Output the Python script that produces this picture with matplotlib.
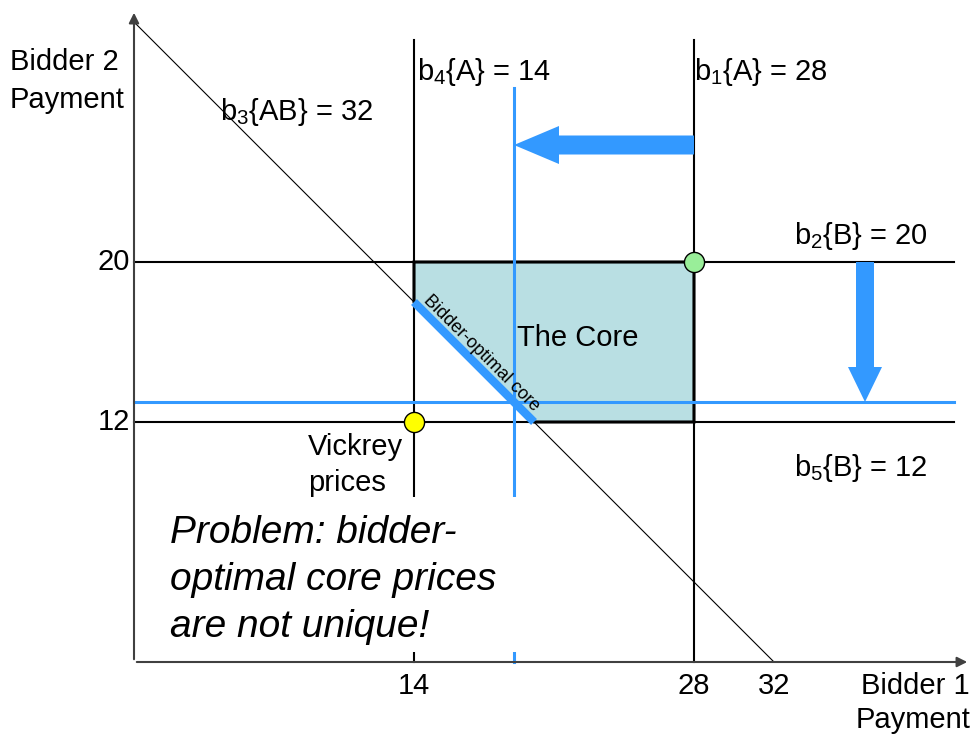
import matplotlib
matplotlib.use("Agg")
import matplotlib.pyplot as plt
from matplotlib.patches import Polygon, Rectangle, FancyArrow

plt.rcParams['font.family'] = ['Liberation Sans', 'DejaVu Sans']

# bids
b1_A = 28
b2_B = 20
b3_AB = 32
b4_A = 14
b5_B = 12
# selected bidder-optimal core point
core_pt = (19, 13)
vickrey = (b4_A, b5_B)
x_ticks = [14, 28, 32]
y_ticks = [12, 20]

BLUE = '#3399ff'
fig = plt.figure(figsize=(9.76, 7.36), dpi=100)
ax = fig.add_axes([0, 0, 1, 1])
ax.set_xlim(-6.7, 42.1)
ax.set_ylim(-3.7, 33.1)
ax.axis('off')

# core polygon
core = [(b4_A, b2_B), (b1_A, b2_B), (b1_A, b5_B), (b3_AB - b5_B, b5_B), (b4_A, b3_AB - b4_A)]
ax.add_patch(Polygon(core, closed=True, facecolor='#b9dfe3', edgecolor='black', lw=2.2, zorder=2))

# constraint lines
ax.plot([b4_A, b4_A], [0, 31.1], color='black', lw=1.5, zorder=3)
ax.plot([b1_A, b1_A], [0, 31.1], color='black', lw=1.5, zorder=3)
ax.plot([0, 41], [b2_B, b2_B], color='black', lw=1.5, zorder=3)
ax.plot([0, 41], [b5_B, b5_B], color='black', lw=1.5, zorder=3)
ax.plot([0, b3_AB], [b3_AB, 0], color='black', lw=0.8, zorder=3)

# blue lines
ax.plot([core_pt[0], core_pt[0]], [0, 28.7], color=BLUE, lw=2.2, zorder=4)
ax.plot([0, 41], [core_pt[1], core_pt[1]], color=BLUE, lw=2.2, zorder=4)

# bidder-optimal core segment
ax.plot([b4_A, b3_AB - b5_B], [b3_AB - b4_A, b5_B], color=BLUE, lw=6, solid_capstyle='butt', zorder=5)
ax.text(17.35, 15.45, 'Bidder-optimal core', rotation=-45, ha='center', va='center',
        fontsize=13, zorder=6, rotation_mode='anchor')

# arrows
ax.add_patch(FancyArrow(b1_A, 25.85, -(b1_A - core_pt[0]), 0, width=0.95, head_width=1.9,
                        head_length=2.25, length_includes_head=True, color=BLUE, lw=0, zorder=6))
ax.add_patch(FancyArrow(36.55, b2_B, 0, -(b2_B - core_pt[1]), width=0.9, head_width=1.7,
                        head_length=1.75, length_includes_head=True, color=BLUE, lw=0, zorder=6))

# points
ax.plot([b1_A], [b2_B], 'o', ms=14.5, mfc='#99ee99', mec='black', mew=1, zorder=7)
ax.plot([vickrey[0]], [vickrey[1]], 'o', ms=14.5, mfc='#ffff00', mec='black', mew=1, zorder=7)

# problem text box (white background covering lines)
ax.add_patch(Rectangle((1.3, 0.5), 19.5, 7.75, facecolor='white', edgecolor='none', zorder=8))
ax.text(1.8, 4.1, 'Problem: bidder-\noptimal core prices\nare not unique!', style='italic',
        fontsize=28, ha='left', va='center', linespacing=1.4, zorder=9)

# axes
AX = '#404040'
ax.annotate('', xy=(0, 32.6), xytext=(0, 0),
            arrowprops=dict(arrowstyle='-|>,head_length=0.6,head_width=0.3', color=AX, lw=1.5), zorder=10)
ax.annotate('', xy=(41.8, 0), xytext=(0, 0),
            arrowprops=dict(arrowstyle='-|>,head_length=0.6,head_width=0.3', color=AX, lw=1.5), zorder=10)

fs = 21
for t in x_ticks:
    ax.text(t, -1.2, str(t), ha='center', va='center', fontsize=fs)
for t in y_ticks:
    ax.text(-0.2, t, str(t), ha='right', va='center', fontsize=fs)

ax.text(-6.2, 29.05, 'Bidder 2\nPayment', ha='left', va='center', fontsize=fs, linespacing=1.45)
ax.text(41.8, -2.05, 'Bidder 1\nPayment', ha='right', va='center', fontsize=fs, linespacing=1.3)

ax.text(14.15, 29.5, r'$\mathregular{b_4}${A} = 14', ha='left', va='center', fontsize=fs)
ax.text(28.0, 29.5, r'$\mathregular{b_1}${A} = 28', ha='left', va='center', fontsize=fs)
ax.text(4.3, 27.5, r'$\mathregular{b_3}${AB} = 32', ha='left', va='center', fontsize=fs)
ax.text(39.7, 21.3, r'$\mathregular{b_2}${B} = 20', ha='right', va='center', fontsize=fs)
ax.text(39.7, 9.7, r'$\mathregular{b_5}${B} = 12', ha='right', va='center', fontsize=fs)
ax.text(19.15, 16.2, 'The Core', ha='left', va='center', fontsize=21, zorder=6)
ax.text(8.7, 9.85, 'Vickrey\nprices', ha='left', va='center', fontsize=fs, linespacing=1.4)

fig.savefig('out.png', dpi=100)
